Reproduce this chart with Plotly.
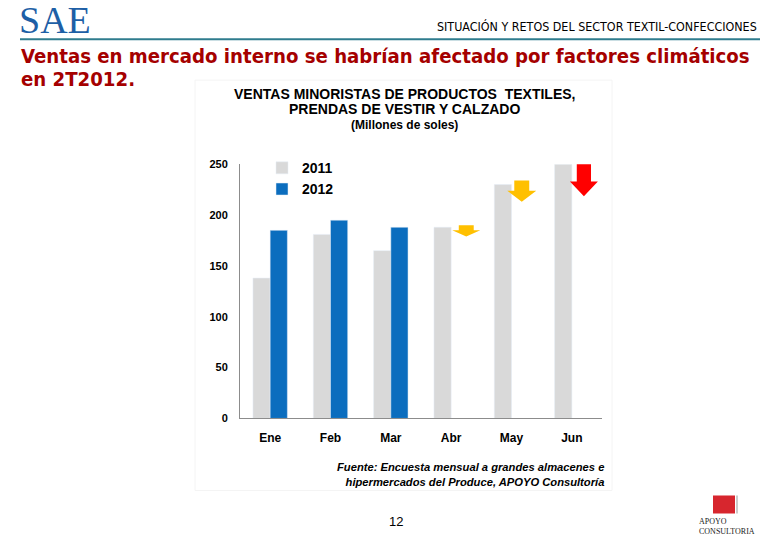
import plotly.graph_objects as go

months = ["Ene", "Feb", "Mar", "Abr", "May", "Jun"]
sales_2011 = [138, 181, 165, 188, 230, 250]
sales_2012 = [185, 195, 188, None, None, None]
y_ticks = [0, 50, 100, 150, 200, 250]

# down arrows: centre (category units), top, head start, tip (data values), colour
arrow_month = [3.25, 4.17, 5.20]
arrow_top = [190, 234, 251]
arrow_head = [185, 224, 233]
arrow_tip = [179, 213, 218.5]
arrow_color = ["#FFC000", "#FFC000", "#FF0000"]
arrow_stem_hw = [0.124, 0.124, 0.118]
arrow_head_hw = [0.232, 0.24, 0.232]

W, H = 780, 540


def py(r):
    # vertical pixel position in the page -> paper fraction (with capture compensation)
    return 1 - ((r - 5.9) / 0.977) / H


x0, x1 = 240 / W, 602 / W
y0, y1 = py(418), py(164)

fig = go.Figure()
fig.add_bar(x=months, y=sales_2011, name="<b>2011</b>", marker_color="#D9D9D9",
            offsetgroup="a")
fig.add_bar(x=months, y=sales_2012, name="<b>2012</b>", marker_color="#0B6DBE",
            offsetgroup="b")

shapes = []
for m, t, hd, tp, c, sw, hw in zip(arrow_month, arrow_top, arrow_head, arrow_tip,
                                   arrow_color, arrow_stem_hw, arrow_head_hw):
    path = (f"M {m - sw} {t} L {m + sw} {t} L {m + sw} {hd} L {m + hw} {hd} "
            f"L {m} {tp} L {m - hw} {hd} L {m - sw} {hd} Z")
    shapes.append(dict(type="path", xref="x", yref="y", path=path,
                       fillcolor=c, line=dict(width=0), layer="above"))

# header rule
shapes.append(dict(type="line", xref="paper", yref="paper", x0=20 / W, x1=760 / W,
                   y0=py(39), y1=py(39), line=dict(color="#2F7C8E", width=2)))
# chart picture frame (faint)
shapes.append(dict(type="rect", xref="paper", yref="paper", x0=195 / W, x1=612 / W,
                   y0=py(490), y1=py(80), line=dict(color="#F4F4F4", width=1),
                   layer="below"))
# logo block
shapes.append(dict(type="rect", xref="paper", yref="paper", x0=713 / W, x1=735 / W,
                   y0=py(513), y1=py(495), fillcolor="#D7262E",
                   line=dict(width=0)))
shapes.append(dict(type="line", xref="paper", yref="paper", x0=737 / W, x1=737 / W,
                   y0=py(513), y1=py(495), line=dict(color="#999999", width=1)))

ann = []
def txt(x, y, s, size, color="#000000", family="Liberation Sans", xanchor="center",
        bold=False, italic=False, align="center"):
    if bold:
        s = f"<b>{s}</b>"
    if italic:
        s = f"<i>{s}</i>"
    ann.append(dict(x=x / W, y=py(y), xref="paper", yref="paper", text=s,
                    showarrow=False, xanchor=xanchor, yanchor="middle", align=align,
                    font=dict(size=size, color=color, family=family)))

NARROW = "DejaVu Sans Condensed, Liberation Sans Narrow, Liberation Sans"
txt(17, 20, "SAE", 38, "#1E5FA6", "Liberation Serif", "left")
txt(759, 26, "SITUACIÓN Y RETOS DEL SECTOR TEXTIL-CONFECCIONES", 12.4, "#000000",
    NARROW, "right")
txt(19, 56, "Ventas en mercado interno se habrían afectado por factores climáticos",
    20.2, "#A50000", NARROW, "left", bold=True)
txt(19, 79, "en 2T2012.", 20.2, "#A50000", NARROW, "left", bold=True)
txt(404, 94, "VENTAS MINORISTAS DE PRODUCTOS  TEXTILES,", 14, bold=True)
txt(404, 109, "PRENDAS DE VESTIR Y CALZADO", 14, bold=True)
txt(404, 125, "(Millones de soles)", 12, bold=True)
txt(606, 474, "Fuente: Encuesta mensual a grandes almacenes e<br>"
    "hipermercados del Produce, APOYO Consultoría", 11.2, xanchor="right",
    bold=True, italic=True, align="right")
txt(396, 521, "12", 13)
ann.append(dict(x=697 / W, y=py(514), xref="paper", yref="paper",
                text="APOYO<br>CONSULTORIA", showarrow=False, xanchor="left",
                yanchor="top", align="left",
                font=dict(size=8, color="#222222", family="Liberation Serif")))

fig.update_layout(
    width=W, height=H, margin=dict(l=0, r=0, t=0, b=0),
    paper_bgcolor="white", plot_bgcolor="white",
    barmode="group", bargap=0.43, bargroupgap=0,
    shapes=shapes, annotations=ann,
    legend=dict(x=262 / W, y=py(152), xanchor="left", yanchor="top",
                font=dict(size=14, family="Liberation Sans", color="#000"),
                itemwidth=30, bgcolor="rgba(0,0,0,0)"),
    xaxis=dict(domain=[x0, x1], showline=True, linecolor="#8C8C8C", linewidth=1,
               ticks="", range=[-0.5, 5.5], ticklabelstandoff=8,
               tickfont=dict(size=12, family="Liberation Sans", color="#000",
                             weight="bold")),
    yaxis=dict(domain=[y0, y1], range=[0, 250], showline=True, linecolor="#8C8C8C",
               linewidth=1, showgrid=False, zeroline=False, tickvals=y_ticks,
               ticks="", ticklabelstandoff=9,
               tickfont=dict(size=11, family="Liberation Sans", color="#000",
                             weight="bold")),
)

fig.write_html(
    "out.html",
    config={"displayModeBar": False},
    post_script=("document.documentElement.style.margin='0';"
                 "document.body.style.margin='0';"
                 "document.body.style.overflow='hidden';"),
)
